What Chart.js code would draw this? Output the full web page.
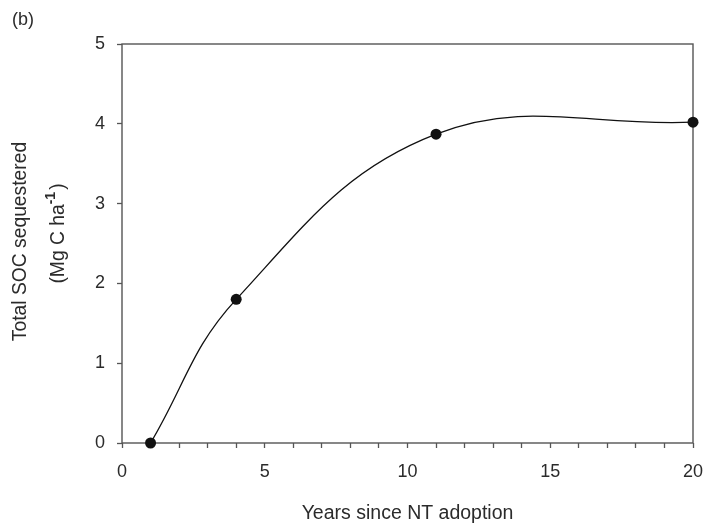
<!DOCTYPE html>
<html>
<head>
<meta charset="utf-8">
<script src="https://cdn.jsdelivr.net/npm/chart.js@4/dist/chart.umd.min.js"></script>
<style>
html, body { margin: 0; padding: 0; background: #fff; }
#wrap { width: 704px; height: 523px; }
</style>
</head>
<body>
<div id="wrap"><canvas id="graph"></canvas></div>
<script>
// data
const years = [1, 4, 11, 20];
const socTotal = [0, 1.8, 3.87, 4.02];
const xTicks = [0, 5, 10, 15, 20];
const yTicks = [0, 1, 2, 3, 4, 5];

const panelLabel = '(b)';
const xTitle = 'Years since NT adoption';
const yTitleLine1 = 'Total SOC sequestered';
const yTitleLine2 = ['(Mg C ha', '-1', ')'];

const textColor = '#2b2b2b';
const axisColor = '#555555';
const fontFamily = '"Liberation Sans", Arial, sans-serif';

// frame round the plot + y title with superscript + panel label
const extras = {
    id: 'extras',
    beforeDatasetsDraw(chart) {
        const ctx = chart.ctx;
        const a = chart.chartArea;
        ctx.save();
        ctx.strokeStyle = axisColor;
        ctx.lineWidth = 1.4;
        ctx.strokeRect(a.left, a.top, a.right - a.left, a.bottom - a.top);
        ctx.restore();
    },
    afterDraw(chart) {
        const ctx = chart.ctx;
        const a = chart.chartArea;
        const midY = (a.top + a.bottom) / 2;
        const big = '19.3px ' + fontFamily;
        ctx.save();
        ctx.fillStyle = textColor;
        ctx.textBaseline = 'middle';
        ctx.font = '18px ' + fontFamily;
        ctx.textAlign = 'left';
        ctx.fillText(panelLabel, 12, 20);

        ctx.font = big;
        ctx.translate(21, midY - 2);
        ctx.rotate(-Math.PI / 2);
        ctx.textAlign = 'center';
        ctx.fillText(yTitleLine1, 0, 0);

        // second line: (Mg C ha^-1)
        const supFont = 'bold 14px ' + fontFamily;
        const w0 = ctx.measureText(yTitleLine2[0]).width;
        ctx.font = supFont;
        const w1 = ctx.measureText(yTitleLine2[1]).width;
        ctx.font = big;
        const w2 = ctx.measureText(yTitleLine2[2]).width;
        let x = -(w0 + w1 + w2) / 2 + 7;
        const y2 = 38;
        ctx.textAlign = 'left';
        ctx.fillText(yTitleLine2[0], x, y2);
        x += w0;
        ctx.font = supFont;
        ctx.fillText(yTitleLine2[1], x, y2 - 8);
        x += w1 + 2;
        ctx.font = big;
        ctx.fillText(yTitleLine2[2], x, y2);
        ctx.restore();
    }
};

const ctx = document.getElementById('graph').getContext('2d');
new Chart(ctx, {
    type: 'scatter',
    data: {
        datasets: [{
            data: years.map((v, i) => ({ x: v, y: socTotal[i] })),
            showLine: true,
            borderColor: '#111111',
            borderWidth: 1.3,
            tension: 0.4,
            pointRadius: 5.5,
            pointHoverRadius: 5.5,
            pointBackgroundColor: '#111111',
            pointBorderColor: '#111111',
            pointBorderWidth: 0,
            clip: false
        }]
    },
    options: {
        responsive: true,
        maintainAspectRatio: false,
        animation: false,
        events: [],
        layout: { padding: { top: 44, right: 11, left: 0, bottom: 0 } },
        plugins: {
            legend: { display: false },
            tooltip: { enabled: false }
        },
        scales: {
            x: {
                type: 'linear',
                min: 0,
                max: 20,
                afterFit: (scale) => {
                    scale.height = 80;
                    scale.paddingLeft = 0;
                    scale.paddingRight = 0;
                },
                afterBuildTicks: (scale) => {
                    const t = [];
                    for (let v = scale.min; v <= scale.max; v++) t.push({ value: v });
                    scale.ticks = t;
                },
                border: { display: false },
                grid: {
                    drawOnChartArea: false,
                    drawTicks: true,
                    tickLength: 5,
                    tickColor: axisColor,
                    tickWidth: 1.3
                },
                ticks: {
                    autoSkip: false,
                    maxRotation: 0,
                    padding: 13,
                    color: textColor,
                    font: { family: fontFamily, size: 18 },
                    callback: (v) => xTicks.includes(v) ? String(v) : ''
                },
                title: {
                    display: true,
                    text: xTitle,
                    color: textColor,
                    font: { family: fontFamily, size: 19.5, lineHeight: 1 },
                    padding: { top: 0, bottom: 0 }
                }
            },
            y: {
                min: 0,
                max: 5,
                afterFit: (scale) => {
                    scale.width = 122;
                    scale.paddingTop = 0;
                    scale.paddingBottom = 0;
                },
                afterBuildTicks: (scale) => {
                    scale.ticks = yTicks.map(v => ({ value: v }));
                },
                border: { display: false },
                grid: {
                    drawOnChartArea: false,
                    drawTicks: true,
                    tickLength: 5,
                    tickColor: axisColor,
                    tickWidth: 1.3
                },
                ticks: {
                    padding: 12,
                    color: textColor,
                    font: { family: fontFamily, size: 18 }
                }
            }
        }
    },
    plugins: [extras]
});
</script>
</body>
</html>
